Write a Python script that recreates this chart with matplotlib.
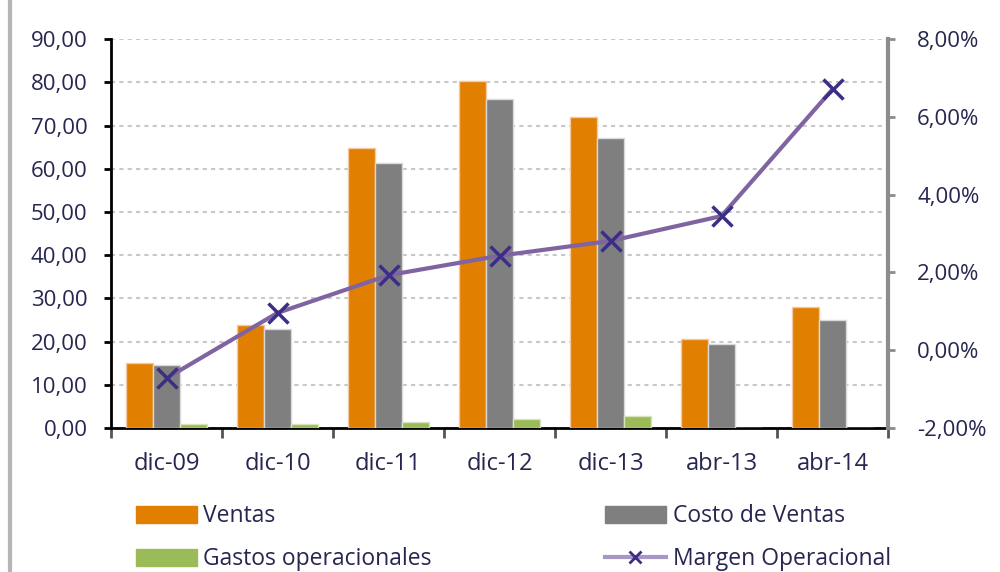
import numpy as np
import matplotlib
matplotlib.use("Agg")
import matplotlib.pyplot as plt
from matplotlib.lines import Line2D
from matplotlib.ticker import FuncFormatter, FixedLocator

plt.rcParams["font.family"] = ["Open Sans", "DejaVu Sans"]

# datos
periodos = ["dic-09", "dic-10", "dic-11", "dic-12", "dic-13", "abr-13", "abr-14"]
ventas = [15.0, 23.8, 64.7, 80.3, 72.0, 20.5, 27.9]
costo_ventas = [14.6, 22.8, 61.4, 76.1, 67.0, 19.4, 25.1]
gastos_op = [0.85, 0.85, 1.5, 2.1, 2.85, 0.0, 0.0]
margen_op = [-0.72, 0.96, 1.93, 2.43, 2.81, 3.45, 6.71]  # en %

c_ventas = "#E07F00"
c_costo = "#7F7F7F"
c_gastos = "#9BBB59"
c_linea = "#8064A2"
c_marca = "#3C2E85"
c_texto = "#262650"

fig = plt.figure(figsize=(10, 5.72), dpi=100)
ax = fig.add_axes([0.111, 0.2517, 0.777, 0.68])
ax2 = ax.twinx()

x = np.arange(len(periodos))
w = 0.245
ax.bar(x - w, ventas, w, color=c_ventas, edgecolor="#F4C8A4", linewidth=1.0, zorder=3)
ax.bar(x, costo_ventas, w, color=c_costo, edgecolor="#D9D9D9", linewidth=1.0, zorder=3)
ax.bar(x + w, gastos_op, w, color=c_gastos, edgecolor="#D7E4BD", linewidth=1.0, zorder=3)

ax2.plot(x, margen_op, color=c_linea, lw=3, marker="x", markersize=15,
         markeredgewidth=2.5, markeredgecolor=c_marca, zorder=4)

ax.set_xlim(-0.5, len(periodos) - 0.5)
ax.set_ylim(0, 90)
ax2.set_ylim(-2, 8)

# grilla punteada
ax.set_yticks(np.arange(0, 91, 10))
ax.yaxis.grid(True, color="#C8C8C8", linestyle=(0, (2, 2)), linewidth=1.5, zorder=0)
ax.set_axisbelow(True)

ax.yaxis.set_major_formatter(FuncFormatter(lambda v, p: f"{v:.2f}".replace(".", ",")))
ax2.set_yticks(np.arange(-2, 9, 2))
ax2.yaxis.set_major_formatter(FuncFormatter(lambda v, p: f"{v:.2f}%".replace(".", ",")))

ax.set_xticks(x)
ax.set_xticklabels(periodos)
ax.xaxis.set_minor_locator(FixedLocator(np.arange(-0.5, len(periodos), 1.0)))
ax.tick_params(axis="x", which="major", length=0, pad=17, labelsize=17, labelcolor=c_texto)
ax.tick_params(axis="x", which="minor", length=7, width=2, color="#555555")
ax.tick_params(axis="y", length=5, width=2, color="black", pad=12, labelsize=16, labelcolor=c_texto)
ax2.tick_params(axis="y", length=5, width=2, color="#8C8C8C", pad=16, labelsize=16, labelcolor=c_texto)

ax.spines["top"].set_visible(False)
ax2.spines["top"].set_visible(False)
ax.spines["left"].set_linewidth(2)
ax.spines["bottom"].set_linewidth(2)
ax.spines["right"].set_visible(False)
ax2.spines["left"].set_visible(False)
ax2.spines["bottom"].set_visible(False)
ax2.spines["right"].set_color("#8C8C8C")
ax2.spines["right"].set_linewidth(3)

# leyenda
h_ventas = plt.Rectangle((0, 0), 1, 1, color=c_ventas)
h_costo = plt.Rectangle((0, 0), 1, 1, color=c_costo)
h_gastos = plt.Rectangle((0, 0), 1, 1, color=c_gastos)
h_margen = Line2D([], [], color="#A797C4", lw=3, marker="x", markersize=8,
                  markeredgewidth=2, markeredgecolor=c_marca)
fig.legend([h_ventas, h_gastos, h_costo, h_margen],
           ["Ventas", "Gastos operacionales", "Costo de Ventas", "Margen Operacional"],
           ncol=2, loc="center left", bbox_to_anchor=(0.115, 0.0595), frameon=False,
           fontsize=16.5, labelcolor=c_texto, handlelength=2.66, handleheight=0.75,
           handletextpad=0.3, columnspacing=7.55, labelspacing=0.83)

# borde izquierdo del area del grafico
fig.add_artist(Line2D([0.01, 0.01], [0.0, 1.0], color="#B5B5B5", lw=3))

fig.savefig("out.png", dpi=100)
